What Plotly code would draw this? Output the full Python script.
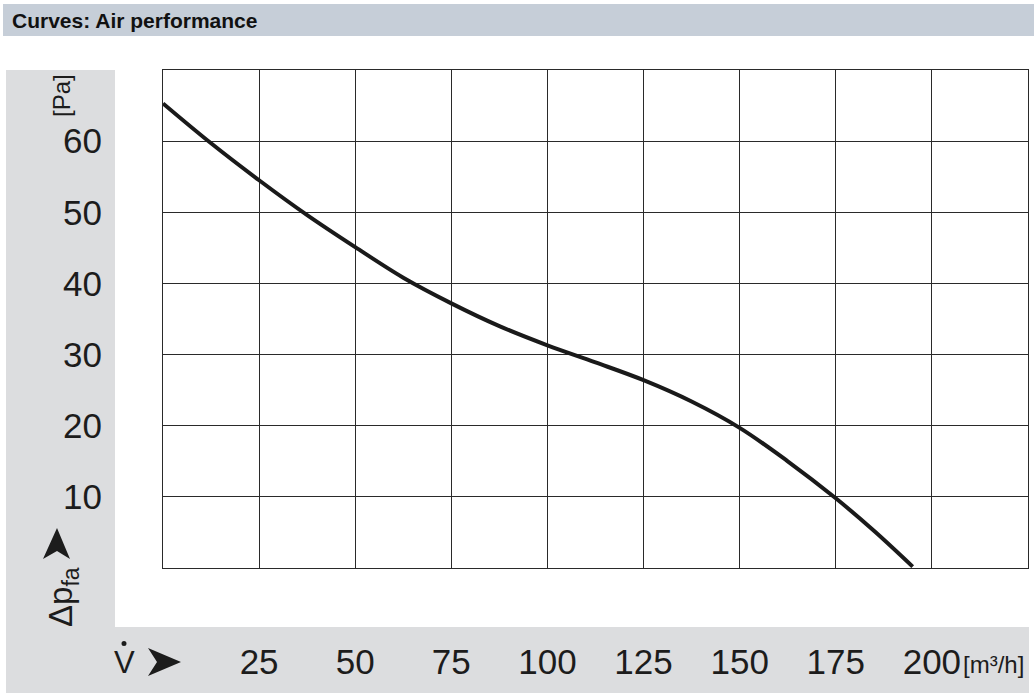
import plotly.graph_objects as go

# Data
flow_m3h = [0, 12.5, 25, 37.5, 50, 62.5, 75, 87.5, 100, 112.5, 125, 137.5, 150, 162.5, 175, 185, 195]
pressure_pa = [65.3, 59.7, 54.5, 49.6, 45.1, 40.8, 37.2, 34.0, 31.3, 28.9, 26.4, 23.4, 19.7, 15.0, 9.8, 5.2, 0.2]
x_ticks = [25, 50, 75, 100, 125, 150, 175, 200]
y_ticks = [10, 20, 30, 40, 50, 60]

W, H = 1034, 696
L, R, T, B = 163, 6, 70, 128
PW, PH = W - L - R, H - T - B

def px2x(px):
    return (px - L) / PW

def px2y(py):
    return (H - B - py) / PH

FONT = "Liberation Sans, Arial, sans-serif"
GRAY = "#dcdddf"
HEAD = "#c6ced8"
INK = "#1c1c1c"

fig = go.Figure()
fig.add_trace(go.Scatter(
    x=flow_m3h, y=pressure_pa, mode="lines",
    line=dict(color="#1a1a1a", width=4, shape="spline", smoothing=1.0),
    hoverinfo="skip", showlegend=False,
))

shapes = [
    dict(type="rect", xref="paper", yref="paper",
         x0=px2x(3), x1=px2x(1034), y0=px2y(36), y1=px2y(4),
         fillcolor=HEAD, line=dict(width=0), layer="below"),
    dict(type="rect", xref="paper", yref="paper",
         x0=px2x(6), x1=px2x(115), y0=px2y(693), y1=px2y(70),
         fillcolor=GRAY, line=dict(width=0), layer="below"),
    dict(type="rect", xref="paper", yref="paper",
         x0=px2x(6), x1=px2x(1029), y0=px2y(693), y1=px2y(627),
         fillcolor=GRAY, line=dict(width=0), layer="below"),
]

def path(points):
    return "M " + " L ".join(f"{px2x(a):.5f},{px2y(b):.5f}" for a, b in points) + " Z"

shapes.append(dict(type="path", xref="paper", yref="paper",
                   path=path([(57, 528), (70, 559), (57, 551), (43, 559)]),
                   fillcolor=INK, line=dict(width=0)))
shapes.append(dict(type="path", xref="paper", yref="paper",
                   path=path([(181, 662), (148, 648), (157, 662), (148, 676)]),
                   fillcolor=INK, line=dict(width=0)))
shapes.append(dict(type="circle", xref="paper", yref="paper",
                   x0=px2x(121.5), x1=px2x(126.5), y0=px2y(646), y1=px2y(641),
                   fillcolor=INK, line=dict(width=0)))

annotations = [
    dict(text="<b>Curves: Air performance</b>", xref="paper", yref="paper",
         x=px2x(10), y=px2y(20), xanchor="left", yanchor="middle",
         showarrow=False, font=dict(family=FONT, size=21, color="#111")),
    dict(text="[Pa]", xref="paper", yref="paper", textangle=-90,
         x=px2x(61), y=px2y(96), xanchor="center", yanchor="middle",
         showarrow=False, font=dict(family=FONT, size=24, color=INK)),
    dict(text="Δp<sub>fa</sub>", xref="paper", yref="paper", textangle=-90,
         x=px2x(63), y=px2y(597), xanchor="center", yanchor="middle",
         showarrow=False, font=dict(family=FONT, size=33, color=INK)),
    dict(text="V", xref="paper", yref="paper",
         x=px2x(124), y=px2y(662), xanchor="center", yanchor="middle",
         showarrow=False, font=dict(family=FONT, size=31, color=INK)),
    dict(text="[m³/h]", xref="paper", yref="paper",
         x=px2x(961), y=px2y(664), xanchor="left", yanchor="middle",
         showarrow=False, font=dict(family=FONT, size=24, color=INK)),
]

fig.update_layout(
    width=W, height=H,
    margin=dict(l=L, r=R, t=T, b=B, pad=0),
    paper_bgcolor="white", plot_bgcolor="white",
    shapes=shapes, annotations=annotations,
    showlegend=False,
    xaxis=dict(range=[0, 225], tickvals=x_ticks, ticktext=[str(v) for v in x_ticks],
               showgrid=True, gridcolor="#2a2a2a", gridwidth=1,
               showline=True, linecolor="#2a2a2a", linewidth=1, mirror=True,
               zeroline=False, ticks="", ticklabelstandoff=63, automargin=False,
               tickfont=dict(family=FONT, size=35, color=INK), fixedrange=True),
    yaxis=dict(range=[0, 70], tickvals=y_ticks, ticktext=[str(v) for v in y_ticks],
               showgrid=True, gridcolor="#2a2a2a", gridwidth=1,
               showline=True, linecolor="#2a2a2a", linewidth=1, mirror=True,
               zeroline=False, ticks="", ticklabelstandoff=53, automargin=False,
               tickfont=dict(family=FONT, size=35, color=INK), fixedrange=True),
)

fig.write_html("out.html", config={"displayModeBar": False})
